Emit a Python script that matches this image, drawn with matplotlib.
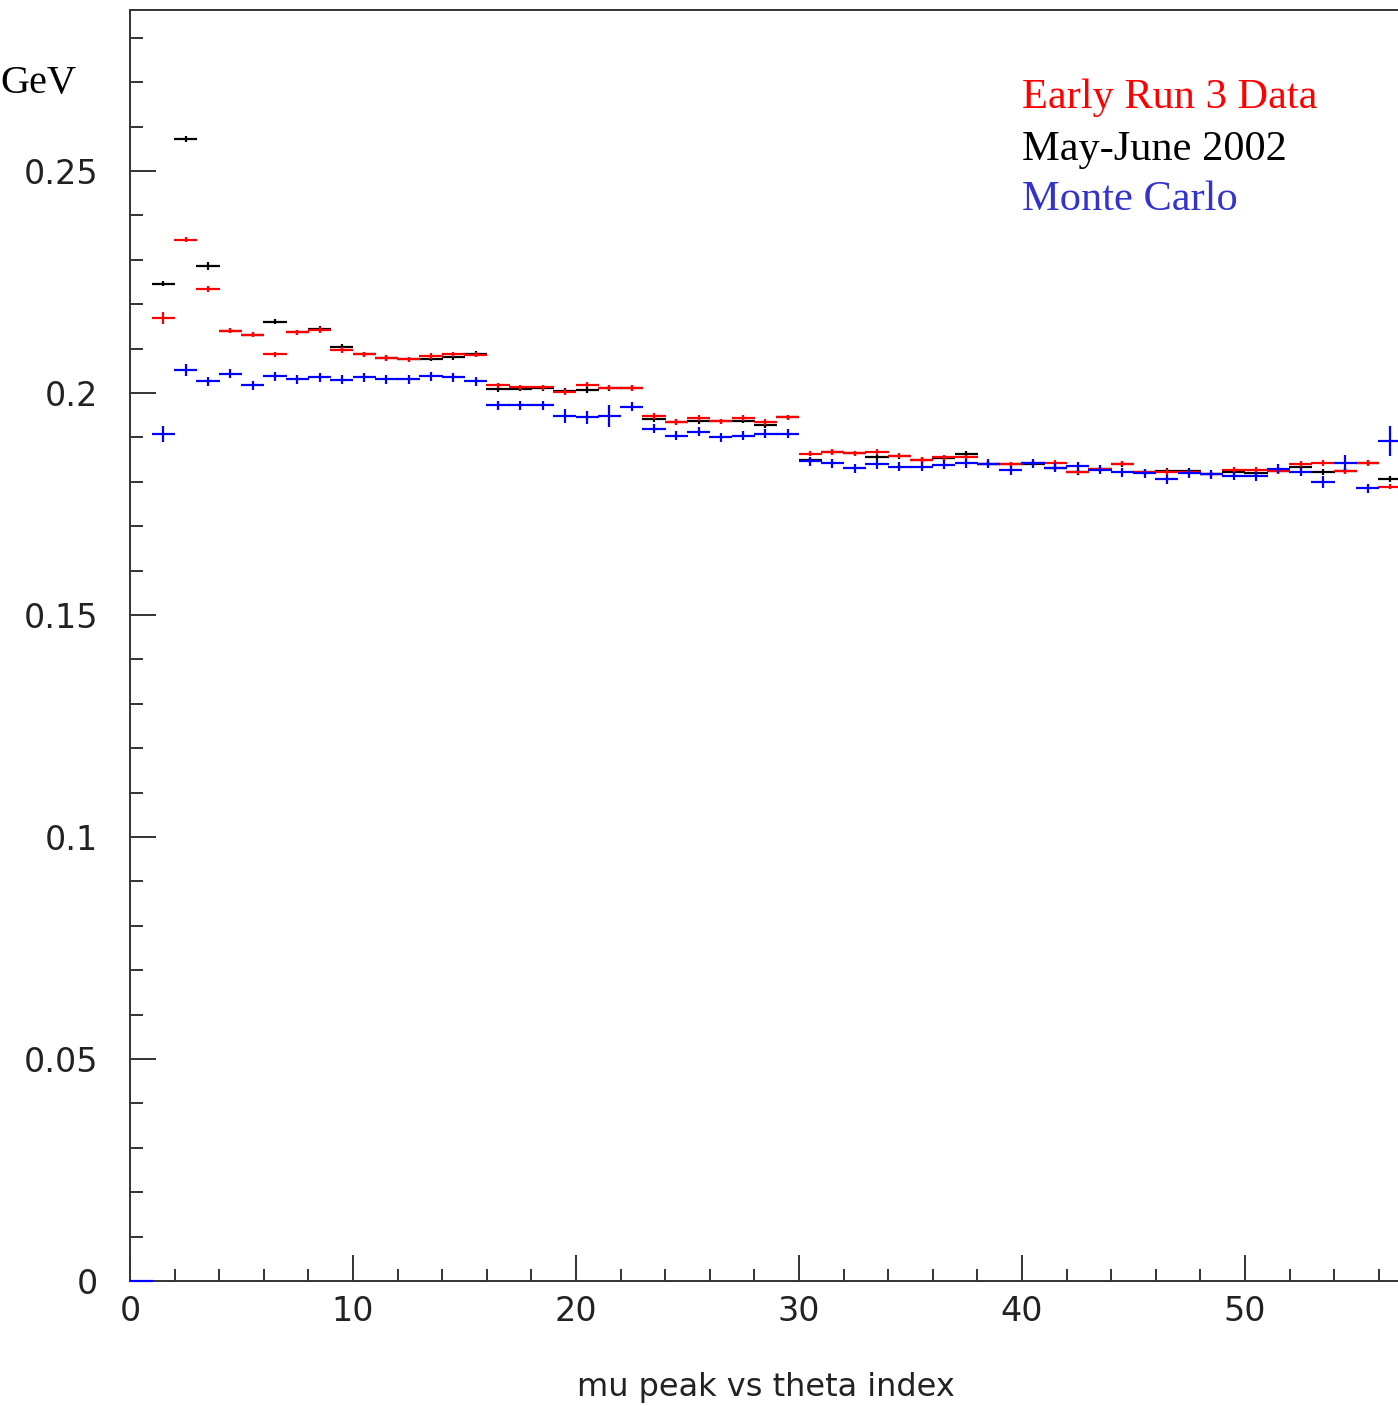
import numpy as np
import matplotlib
matplotlib.use("Agg")
import matplotlib.pyplot as plt

# mu peak (GeV) per theta index bin
bins_data = np.arange(1, 57)
bins_mc = np.arange(0, 57)

may_june = [0.2246, 0.2572, 0.2287, 0.2140, 0.2131, 0.2161, 0.2137, 0.2144,
            0.2104, 0.2087, 0.2079, 0.2076, 0.2077, 0.2080, 0.2088, 0.2008,
            0.2010, 0.2011, 0.2005, 0.2007, 0.2011, 0.2011, 0.1941, 0.1935,
            0.1936, 0.1936, 0.1938, 0.1928, 0.1945, 0.1848, 0.1866, 0.1864,
            0.1855, 0.1857, 0.1849, 0.1853, 0.1863, 0.1841, 0.1839, 0.1841,
            0.1831, 0.1822, 0.1828, 0.1839, 0.1821, 0.1825, 0.1825, 0.1817,
            0.1822, 0.1820, 0.1824, 0.1834, 0.1822, 0.1824, 0.1842, 0.1806]

early_run3 = [0.2169, 0.2345, 0.2234, 0.2140, 0.2131, 0.2087, 0.2137, 0.2142,
              0.2097, 0.2087, 0.2079, 0.2076, 0.2083, 0.2087, 0.2086, 0.2017,
              0.2013, 0.2013, 0.2002, 0.2019, 0.2012, 0.2011, 0.1948, 0.1935,
              0.1944, 0.1936, 0.1944, 0.1935, 0.1945, 0.1863, 0.1867, 0.1864,
              0.1867, 0.1859, 0.1849, 0.1855, 0.1855, 0.1841, 0.1839, 0.1843,
              0.1842, 0.1823, 0.1828, 0.1841, 0.1821, 0.1822, 0.1821, 0.1817,
              0.1827, 0.1827, 0.1824, 0.1840, 0.1842, 0.1824, 0.1842, 0.1789]

monte_carlo = [0.0, 0.1908, 0.2052, 0.2026, 0.2043, 0.2017, 0.2038, 0.2031,
               0.2035, 0.2030, 0.2035, 0.2031, 0.2031, 0.2038, 0.2035, 0.2026,
               0.1972, 0.1972, 0.1972, 0.1949, 0.1945, 0.1949, 0.1969, 0.1920,
               0.1904, 0.1913, 0.1900, 0.1904, 0.1908, 0.1908, 0.1846, 0.1842,
               0.1830, 0.1839, 0.1834, 0.1834, 0.1838, 0.1842, 0.1841, 0.1826,
               0.1842, 0.1832, 0.1835, 0.1827, 0.1821, 0.1819, 0.1806, 0.1819,
               0.1817, 0.1813, 0.1812, 0.1829, 0.1822, 0.1800, 0.1843, 0.1785,
               0.1892]

# vertical errors (mostly small)
err_data = np.full(56, 0.0006)
err_data_red = np.full(56, 0.0006)
err_data_red[0] = 0.0014
err_data[2] = 0.0009
err_mc = np.full(57, 0.0010)
err_mc[0] = 0.0
for idx, e in [(1, 0.0018), (2, 0.0013), (19, 0.0016), (20, 0.0014),
               (21, 0.0025), (53, 0.0013), (54, 0.0017), (56, 0.0033)]:
    err_mc[idx] = e

fig = plt.figure(figsize=(13.98, 14.06), dpi=100)
ax = fig.add_axes([130 / 1398, 125 / 1406, 1271 / 1398, 1271 / 1406])

lw = 1.6
ax.errorbar(bins_data + 0.5, may_june, xerr=0.52, yerr=err_data, fmt='none',
            ecolor='black', elinewidth=lw, capsize=0, zorder=3)
ax.errorbar(bins_data + 0.5, early_run3, xerr=0.52, yerr=err_data_red, fmt='none',
            ecolor='#ff0000', elinewidth=lw, capsize=0, zorder=4)
ax.errorbar(bins_mc + 0.5, monte_carlo, xerr=0.52, yerr=err_mc, fmt='none',
            ecolor='#0000ff', elinewidth=lw, capsize=0, zorder=5, clip_on=False)

ax.set_xlim(0, 57)
ax.set_ylim(0, 0.28626)

ax.set_xticks(np.arange(0, 60, 10))
ax.set_xticks(np.arange(0, 58, 2), minor=True)
ax.set_yticks([0, 0.05, 0.1, 0.15, 0.2, 0.25])
ax.set_yticklabels(['0', '0.05', '0.1', '0.15', '0.2', '0.25'])
ax.set_yticks(np.arange(0, 0.285, 0.01), minor=True)

ax.tick_params(which='both', direction='in', width=1.4, color='#333333',
               labelcolor='#222222', labelsize=24)
ax.tick_params(which='major', length=19)
ax.tick_params(which='minor', length=9)
ax.tick_params(axis='y', which='major', pad=23)
ax.tick_params(axis='x', which='major', pad=10)
ax.tick_params(top=False, right=False)

for side in ['left', 'bottom', 'top']:
    ax.spines[side].set_linewidth(1.4)
    ax.spines[side].set_color('#333333')
ax.spines['right'].set_visible(False)

ax.set_xlabel('mu peak vs theta index', fontsize=23, color='#222222', labelpad=32)

serif = ['Liberation Serif', 'DejaVu Serif']
fig.text(0, 1 - 93 / 1406, 'GeV', fontsize=29, family=serif, va='baseline')
fig.text(1022 / 1398, 1 - 108 / 1406, 'Early Run 3 Data', color='#ff0000',
         fontsize=30.5, family=serif, va='baseline')
fig.text(1022 / 1398, 1 - 160 / 1406, 'May-June 2002', color='black',
         fontsize=30.5, family=serif, va='baseline')
fig.text(1022 / 1398, 1 - 210 / 1406, 'Monte Carlo', color='#3333cc',
         fontsize=30.5, family=serif, va='baseline')

fig.savefig('out.png', dpi=100)
